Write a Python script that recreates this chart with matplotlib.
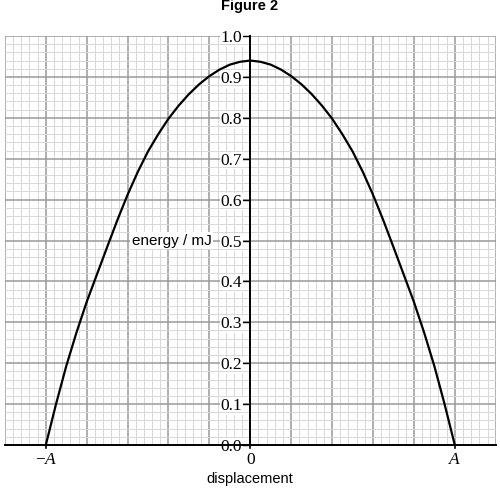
import numpy as np
import matplotlib.pyplot as plt

plt.rcParams['font.family'] = 'Liberation Serif'
plt.rcParams['mathtext.fontset'] = 'custom'
plt.rcParams['mathtext.it'] = 'Liberation Serif:italic'
plt.rcParams['mathtext.rm'] = 'Liberation Serif'

# displacement in units of A, energy in mJ
disp = [-1.0, -0.95, -0.9, -0.85, -0.8, -0.75, -0.7, -0.65, -0.6, -0.55, -0.5,
        -0.45, -0.4, -0.35, -0.3, -0.25, -0.2, -0.15, -0.1, -0.05, 0.0,
        0.05, 0.1, 0.15, 0.2, 0.25, 0.3, 0.35, 0.4, 0.45, 0.5,
        0.55, 0.6, 0.65, 0.7, 0.75, 0.8, 0.85, 0.9, 0.95, 1.0]
energy = [0.0, 0.100, 0.193, 0.275, 0.350, 0.417, 0.484, 0.550, 0.612, 0.668, 0.718,
          0.760, 0.798, 0.830, 0.858, 0.882, 0.902, 0.918, 0.930, 0.937, 0.940,
          0.937, 0.930, 0.918, 0.902, 0.882, 0.858, 0.830, 0.798, 0.760, 0.718,
          0.668, 0.612, 0.550, 0.484, 0.417, 0.350, 0.275, 0.193, 0.100, 0.0]

x_labels = ['\u2212$A$', '0', '$A$']
x_label_pos = [-1.0, 0.0, 1.0]
y_ticks = np.round(np.arange(0, 1.01, 0.1), 1)

fig = plt.figure(figsize=(5.0, 4.9), dpi=100)
ax = fig.add_axes([0.0098, 0.0918, 0.9816, 0.8347])

ax.set_xlim(-1.2, 1.2)
ax.set_ylim(0, 1.0)

# graph paper grid
ax.set_xticks(np.arange(-1.2, 1.201, 0.2))
ax.set_xticks(np.arange(-1.2, 1.201, 0.04), minor=True)
ax.set_yticks(y_ticks)
ax.set_yticks(np.arange(0, 1.001, 0.02), minor=True)
ax.grid(which='minor', color='#d8d8d8', lw=0.7)
ax.grid(which='major', color='#9a9a9a', lw=1.1)
ax.set_axisbelow(True)

for s in ['top', 'right']:
    ax.spines[s].set_visible(False)
ax.spines['left'].set_position(('data', 0))
ax.spines['left'].set_linewidth(1.4)
ax.spines['bottom'].set_linewidth(1.4)

ax.tick_params(axis='x', which='both', length=0, labelbottom=False)
ax.tick_params(axis='y', which='minor', length=0)
ax.tick_params(axis='y', which='major', length=6, width=1.0, pad=0,
               direction='out', labelsize=12.5)
ax.set_yticklabels(['%.1f' % v for v in y_ticks])
for lbl in ax.get_yticklabels():
    lbl.set_bbox(dict(facecolor='white', edgecolor='none', pad=0.5))

ax.plot(disp, energy, color='black', lw=1.6, clip_on=False, zorder=5)

for p, t in zip(x_label_pos, x_labels):
    ax.text(p, -0.037, t, ha='center', va='center', fontsize=12.5,
            transform=ax.transData, clip_on=False)
    ax.plot([p, p], [0, -0.008], color='black', lw=1.2, clip_on=False)

ax.text(-0.19, 0.5, 'energy / mJ', ha='right', va='center', fontsize=11,
        fontfamily='Liberation Sans',
        bbox=dict(facecolor='white', edgecolor='none', pad=1.0), zorder=4)

fig.text(0.5, 0.022, 'displacement', ha='center', va='center', fontsize=10.5,
         fontfamily='Liberation Sans')
fig.text(0.5, 0.987, 'Figure 2', ha='center', va='center', fontsize=10.5,
         fontweight='bold', fontfamily='Liberation Sans')

fig.savefig('out.png', dpi=100)
